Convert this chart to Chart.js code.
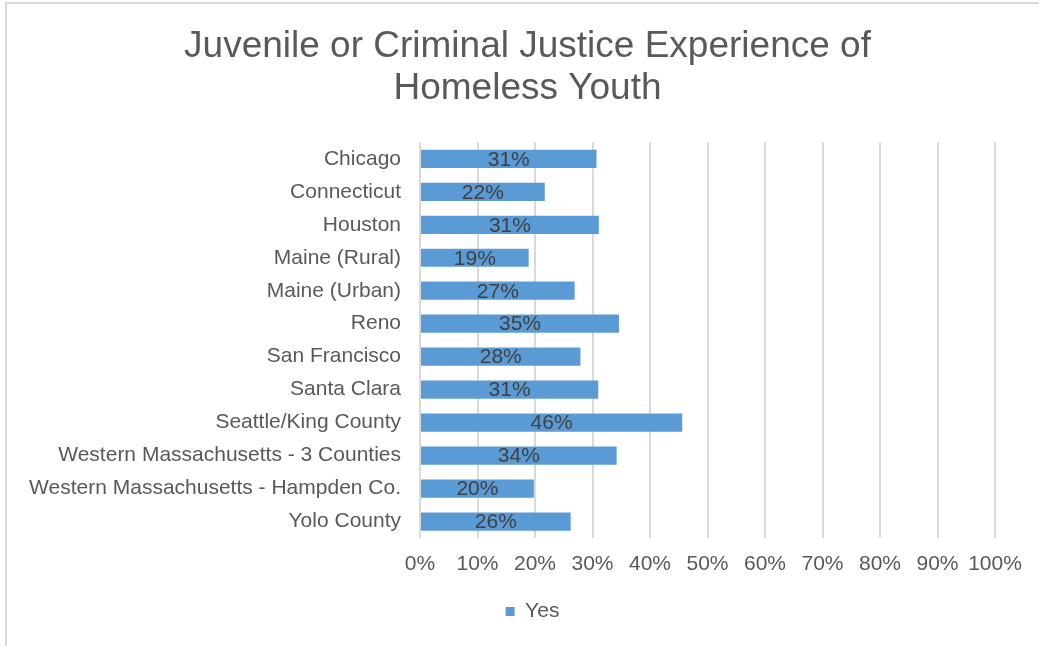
<!DOCTYPE html>
<html>
<head>
<meta charset="utf-8">
<title>Juvenile or Criminal Justice Experience of Homeless Youth</title>
<script src="https://cdn.jsdelivr.net/npm/chart.js@4.4.1/dist/chart.umd.min.js"></script>
<style>
    html, body { margin: 0; padding: 0; background: #fff; overflow: hidden; }
    .frame {
        position: absolute; left: 5px; top: 2px; width: 1100px; height: 700px;
        border-left: 2px solid #d9d9d9; border-top: 2px solid #d9d9d9;
    }
    .chart-box { position: absolute; left: 0; top: 0; width: 1039px; height: 646px; }
</style>
</head>
<body>
<div class="frame"></div>
<div class="chart-box"><canvas id="chart-justice"></canvas></div>
<script>
// Share of homeless youth with juvenile or criminal justice experience, by site
const sites = [
    'Chicago',
    'Connecticut',
    'Houston',
    'Maine (Rural)',
    'Maine (Urban)',
    'Reno',
    'San Francisco',
    'Santa Clara',
    'Seattle/King County',
    'Western Massachusetts - 3 Counties',
    'Western Massachusetts - Hampden Co.',
    'Yolo County'
];
const yesShare = [30.7, 21.7, 31.1, 18.9, 26.9, 34.6, 27.9, 31.0, 45.6, 34.2, 19.8, 26.2];
const titleLines = ['Juvenile or Criminal Justice Experience of', 'Homeless Youth'];
const xTicks = [0, 10, 20, 30, 40, 50, 60, 70, 80, 90, 100];

const FONT = "'Liberation Sans', Arial, sans-serif";

// Percentage labels centred inside each bar
const barLabels = {
    id: 'barLabels',
    afterDatasetsDraw(chart) {
        const ctx = chart.ctx;
        const meta = chart.getDatasetMeta(0);
        ctx.save();
        ctx.font = '21px ' + FONT;
        ctx.fillStyle = '#404040';
        ctx.textAlign = 'center';
        ctx.textBaseline = 'middle';
        meta.data.forEach((bar, i) => {
            const cx = (bar.x + bar.base) / 2;
            ctx.fillText(Math.round(yesShare[i]) + '%', cx, bar.y + 1);
        });
        ctx.restore();
    }
};

// Centre title and legend a bit further right than the full canvas width would
const shiftHeader = {
    id: 'shiftHeader',
    afterLayout(chart) {
        if (chart.titleBlock) chart.titleBlock.left = 60;
        if (chart.legend) chart.legend.left = 70;
    }
};

new Chart(document.getElementById('chart-justice'), {
    type: 'bar',
    data: {
        labels: sites,
        datasets: [{
            label: 'Yes',
            data: yesShare,
            backgroundColor: '#5b9bd5',
            borderWidth: 0,
            barPercentage: 0.553,
            categoryPercentage: 1
        }]
    },
    options: {
        indexAxis: 'y',
        responsive: true,
        maintainAspectRatio: false,
        animation: false,
        layout: { padding: { left: 0, right: 44, top: 0, bottom: 14 } },
        plugins: {
            title: {
                display: true,
                text: titleLines,
                color: '#595959',
                font: { family: FONT, size: 37, weight: 'normal', lineHeight: 1.14 },
                padding: { top: 26, bottom: 32 }
            },
            legend: {
                position: 'bottom',
                labels: {
                    color: '#595959',
                    boxWidth: 9,
                    boxHeight: 9,
                    padding: 10,
                    font: { family: FONT, size: 21 }
                }
            },
            tooltip: { enabled: false }
        },
        scales: {
            x: {
                min: 0,
                max: 100,
                afterBuildTicks: (scale) => {
                    scale.ticks = xTicks.map(v => ({ value: v }));
                },
                afterFit: (scale) => { scale.height = 53; },
                border: { display: false },
                grid: { color: '#d9d9d9', lineWidth: 2, drawTicks: false },
                ticks: {
                    color: '#595959',
                    padding: 14,
                    maxRotation: 0,
                    autoSkip: false,
                    font: { family: FONT, size: 21 },
                    callback: (v) => v + '%'
                }
            },
            y: {
                afterFit: (scale) => { scale.width = 420; },
                border: { display: false },
                grid: { display: false, drawTicks: false },
                ticks: {
                    color: '#595959',
                    padding: 19,
                    autoSkip: false,
                    font: { family: FONT, size: 21 }
                }
            }
        }
    },
    plugins: [barLabels, shiftHeader]
});
</script>
</body>
</html>
